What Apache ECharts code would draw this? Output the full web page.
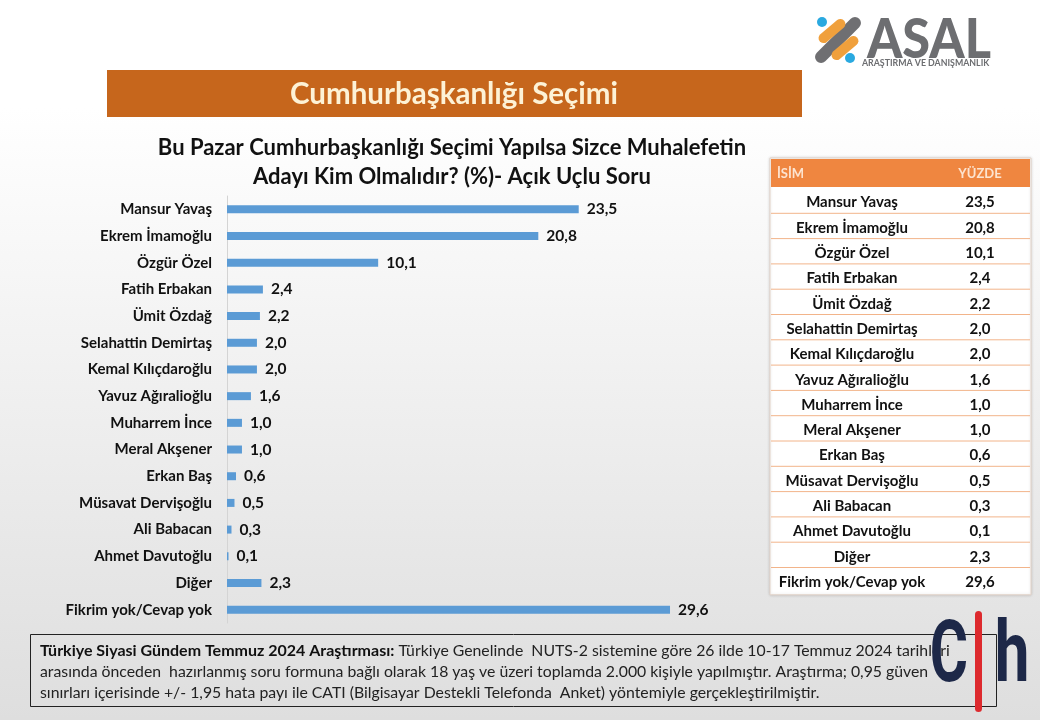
<!DOCTYPE html>
<html>
<head>
<meta charset="utf-8">
<script src="https://cdn.jsdelivr.net/npm/echarts@6/dist/echarts.min.js"></script>
<style>
html,body{margin:0;padding:0;background:#fff;}
#c{width:1040px;height:720px;}
</style>
</head>
<body>
<div id="c"></div>
<script>
const categories = ["Mansur Yavaş","Ekrem İmamoğlu","Özgür Özel","Fatih Erbakan","Ümit Özdağ","Selahattin Demirtaş","Kemal Kılıçdaroğlu","Yavuz Ağıralioğlu","Muharrem İnce","Meral Akşener","Erkan Baş","Müsavat Dervişoğlu","Ali Babacan","Ahmet Davutoğlu","Diğer","Fikrim yok/Cevap yok"];
const values = [23.5,20.8,10.1,2.4,2.2,2.0,2.0,1.6,1.0,1.0,0.6,0.5,0.3,0.1,2.3,29.6];
const tableHeader = ["İSİM","YÜZDE"];
const bannerTitle = "Cumhurbaşkanlığı Seçimi";
const subtitleLines = ["Bu Pazar Cumhurbaşkanlığı Seçimi Yapılsa Sizce Muhalefetin","Adayı Kim Olmalıdır? (%)- Açık Uçlu Soru"];
const noteBold = "Türkiye Siyasi Gündem Temmuz 2024 Araştırması:";
const noteLines = [" Türkiye Genelinde  NUTS-2 sistemine göre 26 ilde 10-17 Temmuz 2024 tarihleri","arasında önceden  hazırlanmış soru formuna bağlı olarak 18 yaş ve üzeri toplamda 2.000 kişiyle yapılmıştır. Araştırma; 0,95 güven","sınırları içerisinde +/- 1,95 hata payı ile CATI (Bilgisayar Destekli Telefonda  Anket) yöntemiyle gerçekleştirilmiştir."];

const fmt = v => v.toFixed(1).replace('.', ',');
const F = 'Lato, "Open Sans", sans-serif';

const chart = echarts.init(document.getElementById('c'));

const graphics = [];
// banner
graphics.push({type:'rect', shape:{x:107,y:70,width:695,height:47}, style:{fill:'#c6661c'}, z:1});
graphics.push({type:'text', x:454, y:94, style:{text:bannerTitle, fill:'#fdf2d6', font:'bold 29.5px '+F, textAlign:'center', textVerticalAlign:'middle'}, z:2});
// subtitle
subtitleLines.forEach((t,i)=>{
  graphics.push({type:'text', x:452, y:148+29*i, style:{text:t, fill:'#111', font:'bold 22px '+F, textAlign:'center', textVerticalAlign:'middle'}, z:2});
});
// table
const tx=771, tw=259, hy=159, hh=28, ry0=188, rh=25.3;
graphics.push({type:'rect', shape:{x:tx-1,y:hy-1,width:tw+2,height:(ry0-hy)+rh*categories.length+3}, style:{fill:'#fff', stroke:'#e3d3c8', lineWidth:1, shadowBlur:3, shadowColor:'rgba(0,0,0,0.15)'}, z:1});
graphics.push({type:'rect', shape:{x:tx,y:hy,width:tw,height:hh}, style:{fill:'#ef8640'}, z:2});
graphics.push({type:'text', x:777, y:hy+hh/2+1, style:{text:tableHeader[0], fill:'#fde4d0', font:'bold 13px '+F, textVerticalAlign:'middle'}, z:3});
graphics.push({type:'text', x:980, y:hy+hh/2+1, style:{text:tableHeader[1], fill:'#fde4d0', font:'bold 13px '+F, textAlign:'center', textVerticalAlign:'middle'}, z:3});
categories.forEach((c,i)=>{
  const y = ry0 + rh*i;
  if (i>0) graphics.push({type:'line', shape:{x1:tx,y1:y,x2:tx+tw,y2:y}, style:{stroke:'#f2b48a', lineWidth:1}, z:2});
  graphics.push({type:'text', x:852, y:y+rh/2+2, style:{text:c, fill:'#111', font:'bold 15px '+F, textAlign:'center', textVerticalAlign:'middle'}, z:3});
  graphics.push({type:'text', x:980, y:y+rh/2+2, style:{text:fmt(values[i]), fill:'#111', font:'bold 15px '+F, textAlign:'center', textVerticalAlign:'middle'}, z:3});
});
// footnote box
graphics.push({type:'rect', shape:{x:30.5,y:634.5,width:966,height:72}, style:{fill:'none', stroke:'#222', lineWidth:1}, z:2});
graphics.push({type:'text', x:40, y:651, style:{text:'{b|'+noteBold+'}{n|'+noteLines[0]+'}', textVerticalAlign:'middle', rich:{b:{font:'bold 16px '+F, fill:'#111'}, n:{font:'15.8px '+F, fill:'#222'}}}, z:3});
graphics.push({type:'text', x:40, y:672, style:{text:noteLines[1], font:'15.8px '+F, fill:'#222', textVerticalAlign:'middle'}, z:3});
graphics.push({type:'text', x:40, y:693, style:{text:noteLines[2], font:'15.8px '+F, fill:'#222', textVerticalAlign:'middle'}, z:3});
// C|h logo
graphics.push({type:'text', x:949, y:659, scaleX:0.68, style:{text:'C', font:'bold 86px Roboto, sans-serif', fill:'#1d2848', textAlign:'center', textVerticalAlign:'middle'}, z:5});
graphics.push({type:'rect', shape:{x:975,y:611,width:7,height:101,r:3.5}, style:{fill:'#dd2a2e'}, z:6});
graphics.push({type:'text', x:1012, y:659, scaleX:0.72, style:{text:'h', font:'bold 86px Roboto, sans-serif', fill:'#1d2848', textAlign:'center', textVerticalAlign:'middle'}, z:5});
// ASAL logo
graphics.push({type:'rect', x:838, y:40, rotation:Math.PI/4, shape:{x:-30,y:-6,width:60,height:12,r:6}, style:{fill:'#6f6f72'}, z:3});
graphics.push({type:'rect', x:832, y:31, rotation:Math.PI/4.5, shape:{x:-16,y:-5,width:32,height:10,r:5}, style:{fill:'#f0a03c'}, z:4});
graphics.push({type:'rect', x:845, y:48, rotation:Math.PI/4.5, shape:{x:-16,y:-5,width:32,height:10,r:5}, style:{fill:'#f0a03c'}, z:4});
graphics.push({type:'circle', shape:{cx:822,cy:22,r:5}, style:{fill:'#2aa9e0'}, z:4});
graphics.push({type:'circle', shape:{cx:850,cy:58,r:5}, style:{fill:'#2aa9e0'}, z:4});
graphics.push({type:'text', x:929, y:40, scaleX:0.9, style:{text:'ASAL', font:'900 56px '+F, fill:'#6d6e71', textAlign:'center', textVerticalAlign:'middle'}, z:3});
graphics.push({type:'text', x:862, y:63, style:{text:'ARAŞTIRMA VE DANIŞMANLIK', font:'bold 8.8px '+F, fill:'#6d6e71', textVerticalAlign:'middle'}, z:3});

chart.setOption({
  animation:false,
  backgroundColor:{type:'linear', x:0, y:0, x2:0, y2:1, colorStops:[{offset:0,color:'#ffffff'},{offset:0.15,color:'#ffffff'},{offset:1,color:'#dedede'}]},
  grid:{left:227, top:196, width:449, height:427},
  xAxis:{type:'value', min:0, max:30, show:false},
  yAxis:{type:'category', inverse:true, data:categories,
    axisLine:{show:true, lineStyle:{color:'#d4d4d4', width:1}},
    axisTick:{show:false},
    axisLabel:{margin:15, color:'#111', fontFamily:F, fontWeight:'bold', fontSize:15}},
  series:[{type:'bar', data:values, barWidth:8, itemStyle:{color:'#5b9bd5'},
    label:{show:true, position:'right', distance:8, formatter:p=>fmt(p.value), color:'#111', fontFamily:F, fontWeight:'bold', fontSize:15.5}}],
  graphic:graphics
});
</script>
</body>
</html>
